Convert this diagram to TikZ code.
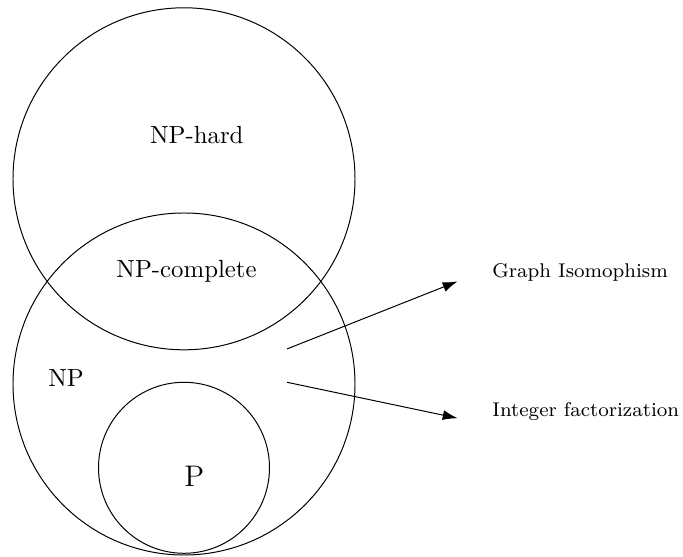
\documentclass[tikz,border=0pt]{standalone}
\usepackage{tikz}
\usetikzlibrary{arrows.meta}

\tikzset{
    setname/.style={font=\normalsize},
    sidelabel/.style={font=\footnotesize, anchor=west},
    pointer/.style={-{Latex[length=6pt,width=4pt]}}
}

\begin{document}
\begin{tikzpicture}[x=1.212cm,y=1.212cm]
\useasboundingbox (-2.152,-2.012) rectangle (5.836,4.491);

% Draw the three sets
\draw (0,2.4) circle (2);
\draw (0,0) circle (2);
\draw (0,-0.98) circle (1);

% Set names
\node[setname] (nphard) at (0.15,2.91) {NP-hard};
\node[setname] (npc) at (0.03,1.32) {NP-complete};
\node[setname] (np) at (-1.38,0.07) {NP};
\node[font=\large] (p) at (0.12,-1.08) {P};

% Problems outside P (not known)
\node[sidelabel] (gi) at (3.505,1.30) {Graph Isomophism};
\node[sidelabel] (intf) at (3.505,-0.32) {Integer factorization};

\coordinate (gifrom) at (1.205,0.41);
\coordinate (gito) at (3.2,1.2);
\coordinate (intffrom) at (1.205,0.02);
\coordinate (intfto) at (3.2,-0.4);

\draw[pointer] (gifrom) -- (gito);
\draw[pointer] (intffrom) -- (intfto);
\end{tikzpicture}
\end{document}
